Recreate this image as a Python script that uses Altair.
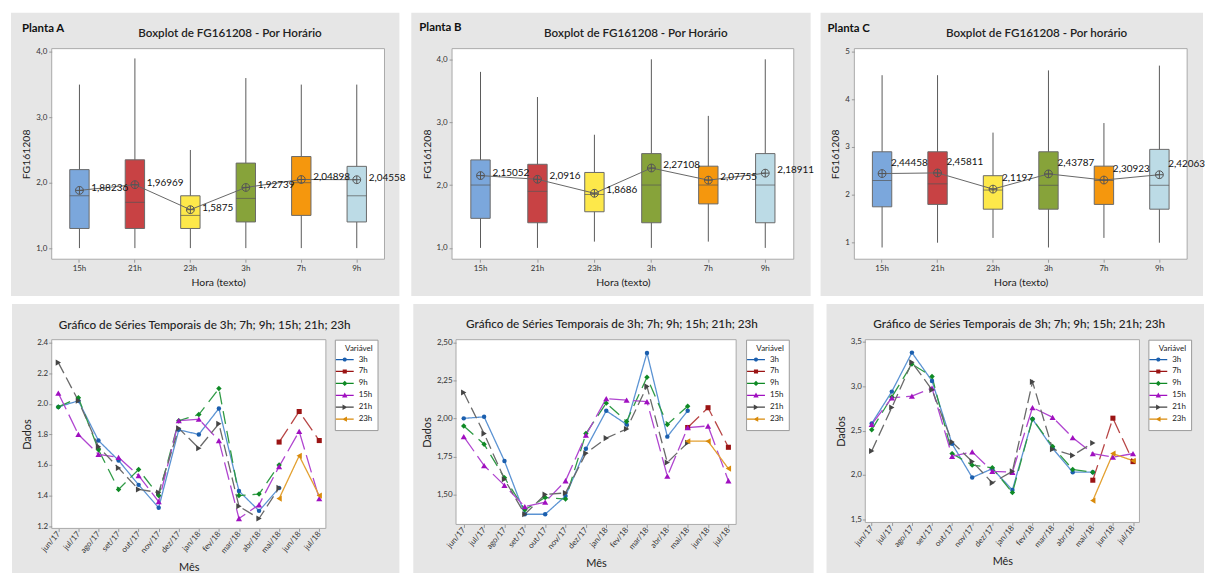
import altair as alt
import pandas as pd

# ---------------- data ----------------
horas = ["15h", "21h", "23h", "3h", "7h", "9h"]
box_cores = ["#7ba7dc", "#c84244", "#fde84a", "#87a33a", "#f5970d", "#bcdbe6"]

a_min = [1.0, 1.0, 1.0, 1.0, 1.0, 1.0]
a_q1 = [1.3, 1.3, 1.3, 1.4, 1.5, 1.4]
a_med = [1.8, 1.7, 1.5, 1.76, 2.0, 1.8]
a_q3 = [2.2, 2.35, 1.8, 2.3, 2.4, 2.25]
a_max = [3.5, 3.9, 2.5, 3.6, 3.5, 3.5]
a_media = [1.88236, 1.96969, 1.5875, 1.92739, 2.04898, 2.04558]

b_min = [1.0, 1.0, 1.1, 1.0, 1.1, 1.0]
b_q1 = [1.47, 1.4, 1.575, 1.4, 1.7, 1.4]
b_med = [2.0, 1.9, 1.85, 2.0, 2.0, 2.0]
b_q3 = [2.4, 2.33, 2.2, 2.5, 2.3, 2.5]
b_max = [3.8, 3.4, 2.8, 4.0, 3.1, 4.0]
b_media = [2.15052, 2.0916, 1.8686, 2.27108, 2.07755, 2.18911]

c_min = [0.9, 1.0, 1.1, 0.9, 1.1, 1.0]
c_q1 = [1.75, 1.8, 1.7, 1.7, 1.8, 1.7]
c_med = [2.3, 2.23, 2.1, 2.2, 2.3, 2.2]
c_q3 = [2.9, 2.9, 2.4, 2.9, 2.6, 2.95]
c_max = [4.5, 4.5, 3.3, 4.6, 3.5, 4.7]
c_media = [2.44458, 2.45811, 2.1197, 2.43787, 2.30923, 2.42063]

meses = ["jun/17", "jul/17", "ago/17", "set/17", "out/17", "nov/17", "dez/17",
         "jan/18", "fev/18", "mar/18", "abr/18", "mai/18", "jun/18", "jul/18"]
series = ["3h", "7h", "9h", "15h", "21h", "23h"]
N = None

# Planta A
ta_3h = [1.98, 2.02, 1.76, 1.63, 1.47, 1.32, 1.83, 1.80, 1.97, 1.43, 1.30, 1.45, N, N]
ta_7h = [N, N, N, N, N, N, N, N, N, N, N, 1.75, 1.95, 1.76]
ta_9h = [1.98, 2.04, 1.70, 1.44, 1.57, 1.40, 1.89, 1.93, 2.10, 1.40, 1.41, 1.60, N, N]
ta_15h = [2.07, 1.80, 1.67, 1.65, 1.53, 1.36, 1.89, 1.90, 1.76, 1.25, 1.34, 1.59, 1.82, 1.38]
ta_21h = [2.27, 2.02, 1.72, 1.58, 1.44, 1.42, 1.84, 1.71, 1.87, 1.33, 1.25, 1.45, N, N]
ta_23h = [N, N, N, N, N, N, N, N, N, N, N, 1.38, 1.66, 1.40]

# Planta B
tb_3h = [2.00, 2.01, 1.72, 1.37, 1.37, 1.49, 1.80, 2.05, 1.96, 2.43, 1.88, 2.05, N, N]
tb_7h = [N, N, N, N, N, N, N, N, N, N, N, 1.94, 2.07, 1.81]
tb_9h = [1.95, 1.83, 1.61, 1.40, 1.48, 1.47, 1.90, 2.10, 1.98, 2.27, 1.96, 2.08, N, N]
tb_15h = [1.88, 1.69, 1.56, 1.42, 1.45, 1.59, 1.89, 2.13, 2.12, 2.11, 1.62, 1.94, 1.95, 1.59]
tb_21h = [2.17, 1.90, 1.60, 1.37, 1.50, 1.51, 1.77, 1.87, 1.93, 2.21, 1.71, 1.84, N, N]
tb_23h = [N, N, N, N, N, N, N, N, N, N, N, 1.85, 1.85, 1.67]

# Planta C
tc_3h = [2.58, 2.94, 3.38, 3.06, 2.35, 1.97, 2.07, 1.83, 2.63, 2.30, 2.03, 2.03, N, N]
tc_7h = [N, N, N, N, N, N, N, N, N, N, N, 1.94, 2.64, 2.15]
tc_9h = [2.51, 2.88, 3.25, 3.11, 2.24, 2.11, 2.08, 1.80, 2.63, 2.32, 2.06, 2.03, N, N]
tc_15h = [2.57, 2.87, 2.89, 2.98, 2.21, 2.26, 2.04, 2.03, 2.76, 2.65, 2.42, 2.24, 2.20, 2.24]
tc_21h = [2.27, 2.76, 3.27, 2.96, 2.37, 2.15, 1.91, 2.04, 3.05, 2.29, 2.22, 2.36, N, N]
tc_23h = [N, N, N, N, N, N, N, N, N, N, N, 1.71, 2.24, 2.16]

# ---------------- styles ----------------
FONT = "Lato"
BG = "#e6e6e6"
line_cores = ["#5b93d3", "#b84646", "#2f9a45", "#b045d0", "#6a6a6a", "#e3a030"]
mark_cores = ["#1b5fae", "#9b1414", "#0f8a25", "#a010c0", "#454545", "#d98a0a"]
dashes = [[1, 0], [16, 6], [13, 7], [18, 6], [12, 5], [1, 0]]
shapes = ["circle", "square", "diamond", "triangle-up", "triangle-right", "triangle-left"]
sizes = [20, 26, 30, 38, 38, 38]
LINE = "M-2.25,-0.16H2.25V0.16H-2.25Z"
legend_paths = [
    LINE + "M-0.52,0A0.52,0.52 0 1,1 0.52,0A0.52,0.52 0 1,1 -0.52,0Z",
    LINE + "M-0.52,-0.52H0.52V0.52H-0.52Z",
    LINE + "M0,-0.68L0.68,0L0,0.68L-0.68,0Z",
    LINE + "M0,-0.68L0.68,0.56L-0.68,0.56Z",
    LINE + "M0.68,0L-0.56,0.68L-0.56,-0.68Z",
    LINE + "M-0.68,0L0.56,-0.68L0.56,0.68Z",
]
CIRC_CROSS = "M-1,0A1,1 0 1,1 1,0A1,1 0 1,1 -1,0ZM-1,0H1M0,-1V1"
IND = dict(color="independent", fill="independent", shape="independent",
           strokeDash="independent")


def frame_layers(w, h, ins, gap, title, tsize, tweight, tx, ty, planta, px, py):
    l, t, r, b = ins
    one = pd.DataFrame({"k": [0]})
    spacer = alt.Chart(one).mark_rect(fill="white", clip=False).encode(
        x=alt.value(w + r), x2=alt.value(w + r + gap), y=alt.value(-t), y2=alt.value(-t + 5))
    bg = alt.Chart(one).mark_rect(fill=BG, clip=False).encode(
        x=alt.value(-l), x2=alt.value(w + r), y=alt.value(-t), y2=alt.value(h + b))
    plot = alt.Chart(one).mark_rect(fill="white", stroke="#a9a9a9", strokeWidth=1).encode(
        x=alt.value(0), x2=alt.value(w), y=alt.value(0), y2=alt.value(h))
    ttl = alt.Chart(one).mark_text(
        text=title, font=FONT, fontSize=tsize, fontWeight=tweight, color="#222",
        align="center", baseline="alphabetic").encode(x=alt.value(tx), y=alt.value(ty))
    layers = [spacer, bg, plot, ttl]
    if planta:
        layers.append(alt.Chart(one).mark_text(
            text=planta, font=FONT, fontSize=11.5, fontWeight="bold", color="#111",
            align="left", baseline="alphabetic").encode(x=alt.value(px), y=alt.value(py)))
    return layers


def box_panel(mn, q1, md, q3, mx, media, title, planta, w, h, ins, gap, dom, ticks, fmt,
              tdx, ldx, ldy, px, py):
    df = pd.DataFrame({"hora": horas, "min": mn, "q1": q1, "med": md, "q3": q3,
                       "max": mx, "media": media, "idx": list(range(6))})
    base = alt.Chart(df)
    X = alt.X("hora:N", sort=horas, title="Hora (texto)",
              scale=alt.Scale(domain=horas, paddingInner=0, paddingOuter=0),
              axis=alt.Axis(zindex=1, domain=False, tickSize=3, tickColor="#999",
                            labelFont=FONT, labelFontSize=8, labelColor="#333", labelPadding=2,
                            labelAngle=0, titleFont=FONT, titleFontSize=10.5,
                            titleFontWeight="normal", titleColor="#222", titlePadding=5))
    Y = alt.Y("min:Q", title="FG161208",
              scale=alt.Scale(domain=dom, nice=False, zero=False),
              axis=alt.Axis(zindex=1, domain=False, tickSize=3, tickColor="#999", values=ticks,
                            labelExpr=fmt, labelFont=FONT, labelFontSize=8, labelColor="#333",
                            labelOverlap=False, labelFlush=False,
                            labelPadding=2, grid=False, titleFont=FONT, titleFontSize=10.5,
                            titleFontWeight="normal", titleColor="#222", titlePadding=4))
    whisk = base.mark_rule(color="#5a5a5a", strokeWidth=1).encode(x=X, y=Y, y2="max:Q")
    box = base.mark_bar(size=19.5, stroke="#6a6a6a", strokeWidth=1).encode(
        x=X, y=alt.Y("q1:Q"), y2="q3:Q",
        fill=alt.Fill("hora:N", scale=alt.Scale(domain=horas, range=box_cores), legend=None))
    med = base.mark_tick(size=19.5, thickness=1, color="#555", orient="horizontal").encode(
        x=X, y=alt.Y("med:Q"))
    mline = base.mark_line(color="#666", strokeWidth=1).encode(
        x=X, y=alt.Y("media:Q"), order="idx:Q")
    mpt = base.mark_point(shape=CIRC_CROSS, size=62, filled=False, stroke="#555",
                          strokeWidth=1, opacity=1).encode(x=X, y=alt.Y("media:Q"))
    lbl = base.transform_calculate(lbl="replace(toString(datum.media), '.', ',')").mark_text(
        align="left", baseline="middle", dx=ldx, dy=ldy, font=FONT, fontSize=10,
        color="#111").encode(x=X, y=alt.Y("media:Q"), text="lbl:N")
    layers = frame_layers(w, h, ins, gap, title, 11.7, 600, w / 2 + tdx, -12, planta, px, py)
    layers += [whisk, box, med, mline, mpt, lbl]
    return alt.layer(*layers).properties(width=w, height=h)


def ts_panel(vals, w, h, ins, gap, dom, ticks, fmt, pad, tdx, ty, lx):
    rows = []
    for s, arr in zip(series, vals):
        for i, (m, v) in enumerate(zip(meses, arr)):
            if v is not None:
                rows.append({"mes": m, "idx": i, "serie": s, "valor": v})
    df = pd.DataFrame(rows)
    base = alt.Chart(df)
    X = alt.X("mes:O", sort=meses, title="Mês",
              scale=alt.Scale(type="point", domain=meses, padding=pad),
              axis=alt.Axis(zindex=1, domain=False, tickSize=3, tickColor="#999",
                            labelFont=FONT, labelFontSize=8, labelColor="#333", labelAngle=-50,
                            labelPadding=1, labelOverlap=False, titleFont=FONT, titleFontSize=11,
                            titleFontWeight="normal", titleColor="#222", titlePadding=7))
    Y = alt.Y("valor:Q", title="Dados",
              scale=alt.Scale(domain=dom, nice=False, zero=False),
              axis=alt.Axis(zindex=1, domain=False, tickSize=3, tickColor="#999", values=ticks,
                            labelExpr=fmt, labelFont=FONT, labelFontSize=8, labelColor="#333",
                            labelOverlap=False, labelFlush=False,
                            labelPadding=1, grid=False, titleFont=FONT, titleFontSize=11,
                            titleFontWeight="normal", titleColor="#222", titlePadding=4))
    lines, pts = [], []
    for s, lc, d, sh, mc, sz in zip(series, line_cores, dashes, shapes, mark_cores, sizes):
        sub = base.transform_filter(alt.datum.serie == s)
        lines.append(sub.mark_line(color=lc, strokeDash=d, strokeWidth=1.3).encode(
            x=X, y=Y, order="idx:Q"))
        pts.append(sub.mark_point(shape=sh, filled=True, color=mc, size=sz,
                                  opacity=1).encode(x=X, y=Y))
    leg = alt.Legend(title="Variável", orient="none", legendX=lx, legendY=0,
                     fillColor="white", strokeColor="#9a9a9a", padding=5,
                     labelFont=FONT, labelFontSize=8, labelColor="#222", labelOffset=9,
                     titleFont=FONT, titleFontSize=8, titleFontWeight="normal",
                     titleColor="#222", titleAnchor="end", titlePadding=2,
                     symbolSize=64, symbolOpacity=1, rowPadding=0, zindex=1)
    legl = base.mark_point(filled=True, opacity=0).encode(
        x=X, y=Y,
        color=alt.Color("serie:N", scale=alt.Scale(domain=series, range=mark_cores),
                        legend=leg),
        shape=alt.Shape("serie:N", scale=alt.Scale(domain=series, range=legend_paths),
                        legend=leg))
    layers = frame_layers(w, h, ins, gap,
                          "Gráfico de Séries Temporais de 3h; 7h; 9h; 15h; 21h; 23h",
                          11.8, 500, w / 2 + tdx, ty, None, 0, 0)
    layers += lines + pts + [legl]
    return alt.layer(*layers).properties(width=w, height=h)


comma1 = "replace(format(datum.value, '.1f'), '.', ',')"
comma2 = "replace(format(datum.value, '.2f'), '.', ',')"

pA = box_panel(a_min, a_q1, a_med, a_q3, a_max, a_media, "Boxplot de FG161208 - Por Horário",
               "Planta A", 335, 212, (41, 36, 15, 37), 10, [0.83, 4.05],
               [1.0, 1.5, 2.0, 2.5, 3.0, 3.5, 4.0], comma1, 12, 12, -2, -30, -17)
pB = box_panel(b_min, b_q1, b_med, b_q3, b_max, b_media, "Boxplot de FG161208 - Por Horário",
               "Planta B", 344, 212, (41, 36, 17, 37), 8, [0.82, 4.17],
               [1.0, 1.5, 2.0, 2.5, 3.0, 3.5, 4.0], comma1, 13, 12, -3, -33, -18)
pC = box_panel(c_min, c_q1, c_med, c_q3, c_max, c_media, "Boxplot de FG161208 - Por horário",
               "Planta C", 335, 212, (34, 36, 16, 37), 0, [0.655, 5.055],
               [1, 2, 3, 4, 5], "format(datum.value, 'd')", 16, 9, -11, -27, -17)

pD = ts_panel([ta_3h, ta_7h, ta_9h, ta_15h, ta_21h, ta_23h], 276, 190, (40, 36, 74, 45), 12,
              [1.185, 2.42], [1.2, 1.4, 1.6, 1.8, 2.0, 2.2, 2.4],
              "format(datum.value, '.1f')", 0.33, 16, -11, 285)
pE = ts_panel([tb_3h, tb_7h, tb_9h, tb_15h, tb_21h, tb_23h], 282, 186, (43, 36, 78, 49), 11,
              [1.303, 2.517], [1.5, 1.75, 2.0, 2.25, 2.5], comma2, 0.38, 16, -12, 292)
pF = ts_panel([tc_3h, tc_7h, tc_9h, tc_15h, tc_21h, tc_23h], 276, 184, (39, 36, 65, 51), 0,
              [1.463, 3.526], [1.5, 2.0, 2.5, 3.0, 3.5], comma1, 0.32, 17, -12, 285)

top = alt.hconcat(pA, pB, pC, spacing=0).resolve_scale(**IND).resolve_legend(**IND)
bottom = alt.hconcat(pD, pE, pF, spacing=0).resolve_scale(**IND).resolve_legend(**IND)
chart = alt.vconcat(top, bottom, spacing=6).resolve_scale(**IND).resolve_legend(**IND).properties(
    padding={"left": 2, "top": 2, "right": 0, "bottom": 0},
    background="white",
).configure_view(stroke=None).configure(font=FONT)

chart.save("out.html", embed_options={"renderer": "svg", "actions": False})
